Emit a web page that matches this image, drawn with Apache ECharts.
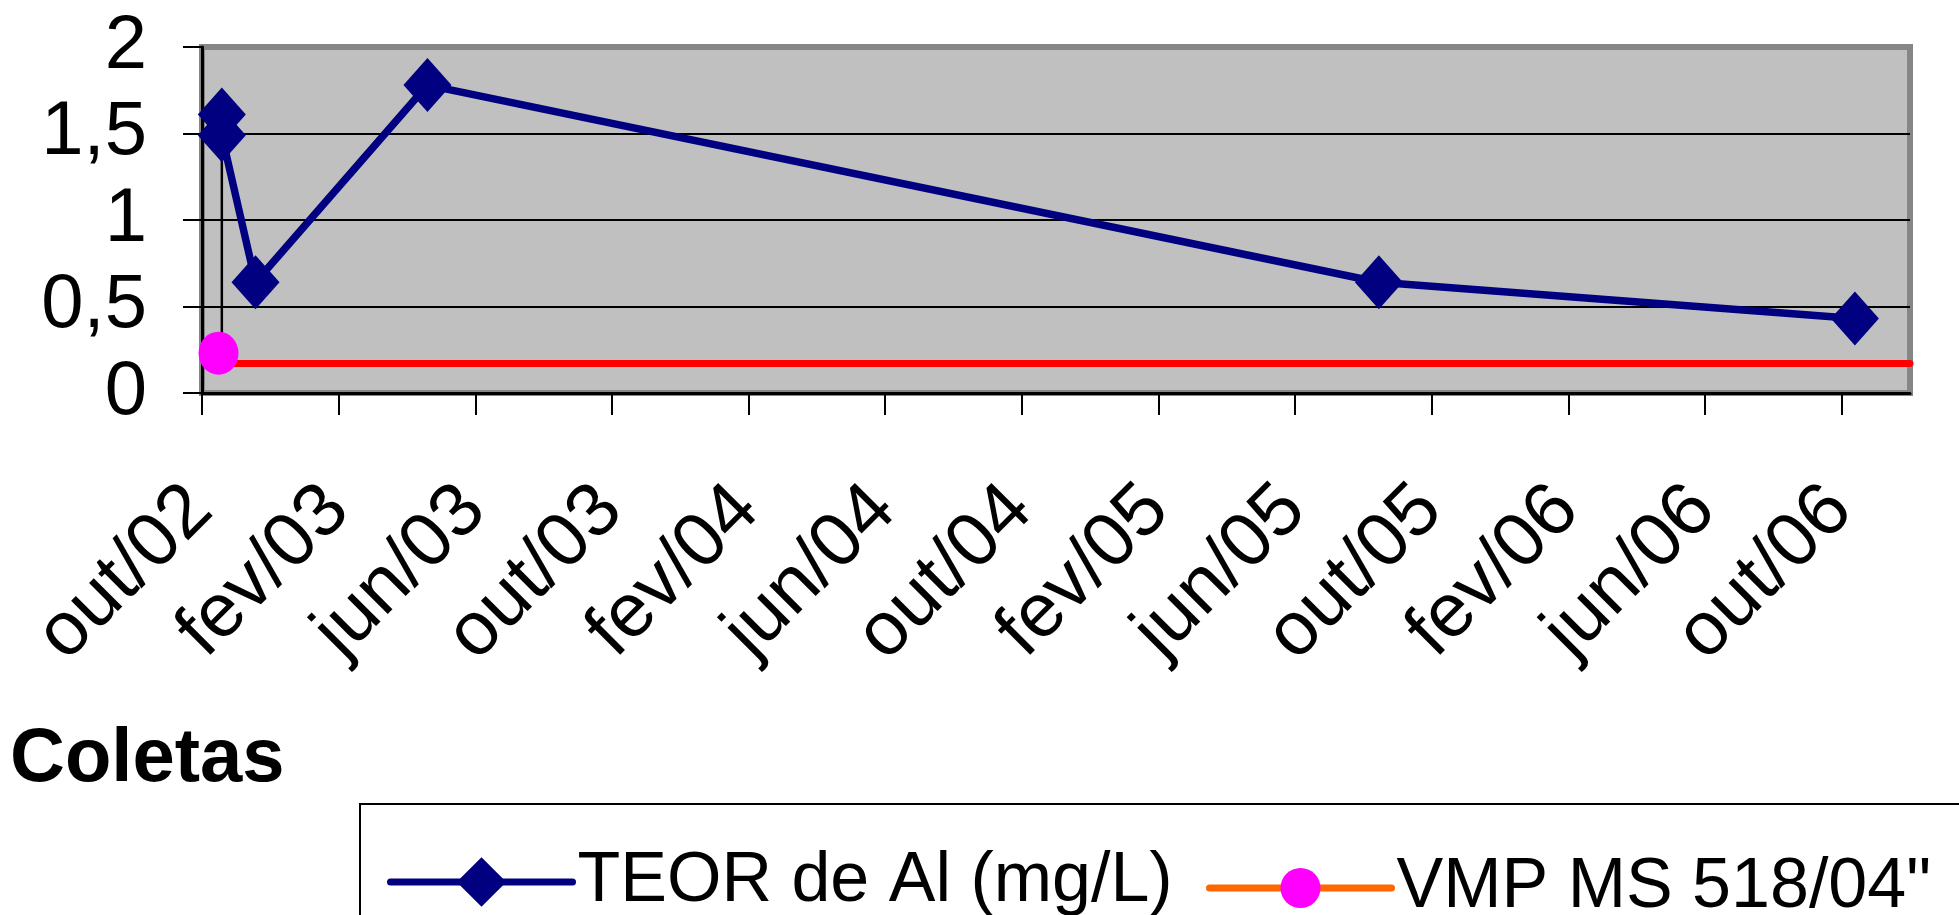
<!DOCTYPE html>
<html>
<head>
<meta charset="utf-8">
<title>Teor de Al</title>
<script src="https://cdn.jsdelivr.net/npm/echarts@6/dist/echarts.min.js"></script>
<style>
  html, body { margin: 0; padding: 0; background: #fff; }
  #chart { width: 1959px; height: 915px; }
</style>
</head>
<body>
<div id="chart"></div>
<script>
// datas das coletas e teores
const teorDates = ['2002-10-19', '2002-10-19', '2002-11-18', '2003-04-19', '2005-08-15', '2006-10-13']
const teorValues = [1.61, 1.49, 0.64, 1.78, 0.64, 0.43]
const vmpDates = ['2002-10-16']
const vmpValues = [0.23]
// linha vermelha do limite
const limiteDates = ['2002-10-13', '2006-12-01']
const limiteValues = [0.17, 0.17]
// traço fino preto ligando o ponto à marca rosa
const ligacaoDates = ['2002-10-19', '2002-10-19']
const ligacaoValues = [1.49, 0.23]
const xTickLabels = ['out/02', 'fev/03', 'jun/03', 'out/03', 'fev/04', 'jun/04', 'out/04',
    'fev/05', 'jun/05', 'out/05', 'fev/06', 'jun/06', 'out/06']
const yTicks = [0, 0.5, 1, 1.5, 2]

const FONT = '"Liberation Sans", Arial, sans-serif'
const GRID = { left: 202, top: 47, right: 49, bottom: 522 }

// meses desde out/2002 (com fração do mês)
const toMonths = (s) => {
    const [y, m, d] = s.split('-').map(Number)
    const days = new Date(y, m, 0).getDate()
    return (y - 2002) * 12 + (m - 10) + (d - 1) / days
}
const pairs = (dates, values) => dates.map((d, i) => [toMonths(d), values[i]])

const chart = echarts.init(document.getElementById('chart'))

const option = {
    animation: false,
    backgroundColor: '#fff',
    title: {
        text: 'Coletas',
        left: 10,
        top: 722,
        padding: 0,
        textStyle: { fontFamily: FONT, fontSize: 76, fontWeight: 'bold', color: '#000' }
    },
    grid: {
        ...GRID,
        show: true,
        backgroundColor: '#C0C0C0',
        borderColor: '#868686',
        borderWidth: 6
    },
    legend: [
        {
            data: ['TEOR de Al (mg/L)'],
            left: 387,
            top: 847,
            padding: 0,
            itemWidth: 182,
            itemHeight: 62,
            lineStyle: { width: 7, cap: 'round' },
            textStyle: { fontFamily: FONT, fontSize: 70, color: '#000' }
        },
        {
            data: ['VMP MS 518/04"'],
            left: 1206,
            top: 853,
            padding: 0,
            itemWidth: 182,
            itemHeight: 50,
            lineStyle: { width: 7, cap: 'round' },
            itemStyle: { borderWidth: 0 },
            textStyle: { fontFamily: FONT, fontSize: 70, color: '#000' }
        }
    ],
    graphic: [
        {
            type: 'rect',
            shape: { x: 360, y: 804, width: 1700, height: 300 },
            style: { fill: 'none', stroke: '#000', lineWidth: 2 },
            silent: true
        }
    ],
    xAxis: {
        type: 'value',
        min: 0,
        max: 50,
        interval: 4,
        axisLine: { lineStyle: { color: '#000', width: 3 } },
        axisTick: { length: 22, lineStyle: { color: '#000', width: 2 } },
        splitLine: { show: false },
        axisLabel: {
            rotate: 45,
            margin: 104,
            padding: [0, 2, 0, 0],
            fontFamily: FONT,
            fontSize: 76,
            color: '#000',
            showMaxLabel: false,
            formatter: (v) => (v % 4 === 0 ? xTickLabels[v / 4] || '' : '')
        }
    },
    yAxis: {
        type: 'value',
        min: yTicks[0],
        max: yTicks[yTicks.length - 1],
        interval: 0.5,
        axisLine: { show: true, lineStyle: { color: '#000', width: 3 } },
        axisTick: { show: true, length: 19, lineStyle: { color: '#000', width: 2 } },
        splitLine: { show: true, showMinLine: false, showMaxLine: false, lineStyle: { color: '#000', width: 2 } },
        axisLabel: {
            margin: 55,
            fontFamily: FONT,
            fontSize: 76,
            color: '#000',
            formatter: (v) => String(v).replace('.', ',')
        }
    },
    series: [
        {
            name: 'ligacao',
            type: 'line',
            data: pairs(ligacaoDates, ligacaoValues),
            symbol: 'none',
            silent: true,
            lineStyle: { color: '#000', width: 2.5 }
        },
        {
            name: 'VMP MS 518/04"',
            type: 'line',
            data: pairs(vmpDates, vmpValues),
            symbol: 'circle',
            symbolSize: [40, 43],
            itemStyle: { color: '#FF00FF' },
            lineStyle: { color: '#FF6600', width: 7 }
        },
        {
            name: 'limite',
            type: 'line',
            data: pairs(limiteDates, limiteValues),
            symbol: 'none',
            silent: true,
            lineStyle: { color: '#FF0000', width: 7, cap: 'round' }
        },
        {
            name: 'TEOR de Al (mg/L)',
            type: 'line',
            data: pairs(teorDates, teorValues),
            symbol: 'diamond',
            symbolSize: [48, 54],
            itemStyle: { color: '#000080' },
            lineStyle: { color: '#000080', width: 7.5 }
        }
    ]
}

chart.setOption(option)
</script>
</body>
</html>
